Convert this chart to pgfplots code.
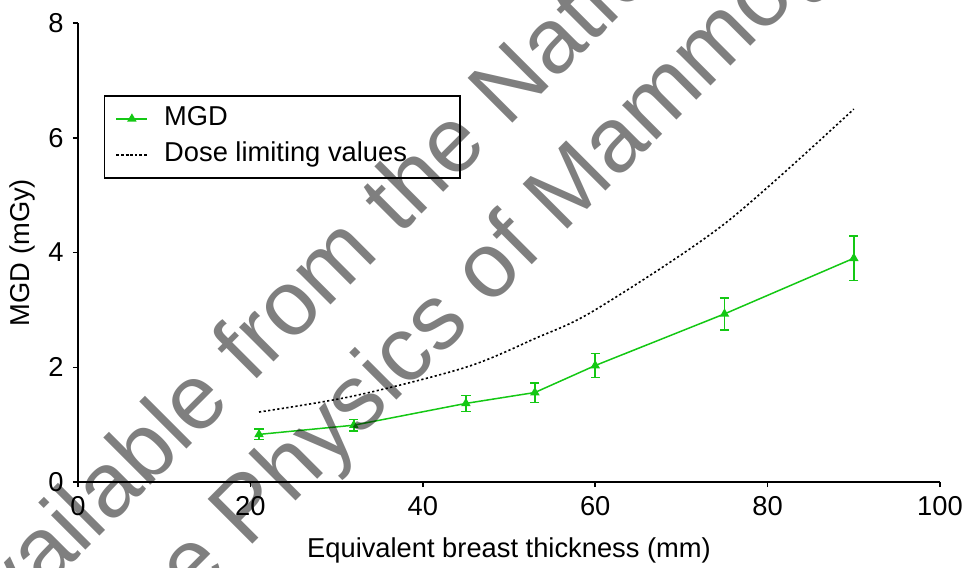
\documentclass[border=0pt]{standalone}
\usepackage{pgfplots}
\pgfplotsset{compat=1.18}
\usepackage{fontspec}
\setmainfont{Liberation Sans}
\definecolor{mgdgreen}{RGB}{20,200,20}
\begin{document}
\fontsize{13.65}{16.4}\selectfont
\begin{tikzpicture}
\path[use as bounding box] (0,0) rectangle (481pt,-283.5pt);
\begin{axis}[
  scale only axis, width=431pt, height=229.5pt,
  at={(39pt,-241pt)}, anchor=south west,
  xmin=0, xmax=100, ymin=0, ymax=8,
  axis x line*=bottom, axis y line*=left,
  axis line style={line width=0.75pt, -},
  xtick={0,20,...,100}, ytick={0,2,...,8},
  tick align=outside, major tick length=2.5pt,
  tick style={line width=0.75pt, black},
  /pgf/number format/assume math mode=true,
  tick label style={font=\fontsize{13.65}{16}\selectfont},
  label style={font=\fontsize{13.65}{16}\selectfont},
  xlabel={Equivalent breast thickness (mm)},
  ylabel={MGD (mGy)},
  xlabel style={at={(axis description cs:0.5,-0.150)}, anchor=center},
  ylabel style={at={(axis description cs:-0.065,0.5)}, anchor=center},
  legend style={at={(axis description cs:0.030,0.843)}, anchor=north west,
    draw=black, line width=0.75pt, inner xsep=5.5pt, inner ysep=4pt,
    font=\fontsize{13.65}{16}\selectfont, row sep=3pt, column sep=4.5pt,
    nodes={inner xsep=3.5pt, inner ysep=1pt, text height=10pt, text depth=3pt}},
  legend cell align=left,
  legend image code/.code={\draw[mark repeat=2,mark phase=2,#1] plot coordinates {(0pt,0pt) (7.75pt,0pt) (15.5pt,0pt)};},
]
\addplot[mgdgreen, line width=0.75pt, mark=triangle*, mark size=2pt,
  error bars/.cd, y dir=both, y explicit,
  error bar style={line width=0.75pt, mgdgreen}, error mark options={rotate=90, mark size=2.3pt, line width=0.75pt, mgdgreen}]
  coordinates {
  (21,0.83) +- (0,0.09)
  (32,0.99) +- (0,0.10)
  (45,1.37) +- (0,0.14)
  (53,1.56) +- (0,0.17)
  (60,2.03) +- (0,0.21)
  (75,2.93) +- (0,0.28)
  (90,3.90) +- (0,0.39)
  };
\addlegendentry{MGD}
\addplot[black, line width=0.8pt, dash pattern=on 1.1pt off 1.2pt, smooth] coordinates {
  (21,1.22) (32,1.5) (45,2.0) (53,2.5) (60,3.0) (75,4.5) (90,6.5)
  };
\addlegendentry{Dose limiting values\hspace*{17.5pt}}
\end{axis}
\begin{scope}
\clip (0,0) rectangle (481pt,-283.5pt);
\node[rotate=45, anchor=base west, inner sep=0pt, font=\fontsize{46}{55}\selectfont, text=black, text opacity=0.5] at (-15pt,-333pt) {Available from the National Co-ordinating Centre};
\node[rotate=45, anchor=base west, inner sep=0pt, font=\fontsize{46}{55}\selectfont, text=black, text opacity=0.5] at (22.5pt,-376pt) {for the Physics of Mammography};
\end{scope}
\end{tikzpicture}
\end{document}
